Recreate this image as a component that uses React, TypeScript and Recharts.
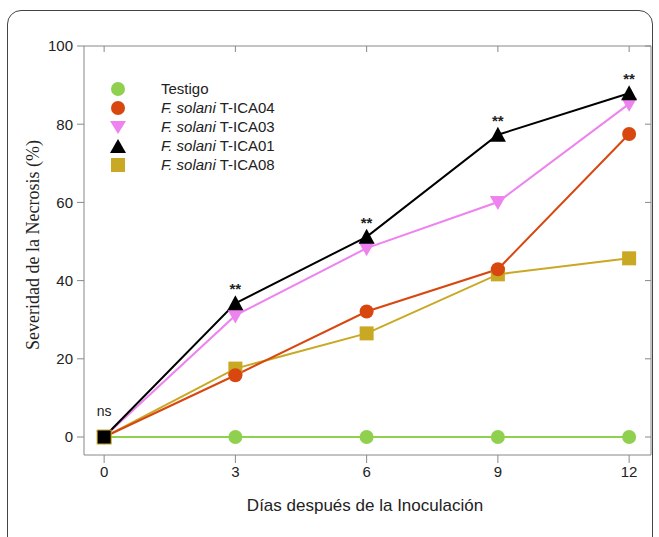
import React from 'react';
import { LineChart, Line, XAxis, YAxis } from 'recharts';

const days = [0, 3, 6, 9, 12];
const testigo = [0, 0, 0, 0, 0];
const ica04 = [0, 15.8, 32.1, 42.9, 77.5];
const ica03 = [0, 31.1, 48.3, 60.1, 85.2];
const ica01 = [0, 34.2, 51.2, 77.3, 87.9];
const ica08 = [0, 17.5, 26.5, 41.6, 45.7];
const annotations = ['ns', '**', '**', '**', '**'];
const xTicks = [0, 3, 6, 9, 12];
const yTicks = [0, 20, 40, 60, 80, 100];

const data = days.map((d, i) => ({
  day: d,
  testigo: testigo[i],
  ica04: ica04[i],
  ica03: ica03[i],
  ica01: ica01[i],
  ica08: ica08[i],
}));

const C_TEST = '#8fd14f';
const C_04 = '#d8470f';
const C_03 = '#ee82ee';
const C_01 = '#000000';
const C_08 = '#c9a824';

const circleDot = (color: string) => (p: any) => (
  <circle key={`c-${color}-${p.index}`} cx={p.cx} cy={p.cy} r={7} fill={color} stroke="none" />
);
const squareDot = (color: string) => (p: any) => (
  <rect key={`s-${p.index}`} x={p.cx - 7} y={p.cy - 7} width={14} height={14} fill={color} stroke="none" />
);
const downTriDot = (color: string) => (p: any) => (
  <path key={`d-${p.index}`} d={`M${p.cx - 8},${p.cy - 6} L${p.cx + 8},${p.cy - 6} L${p.cx},${p.cy + 8} Z`} fill={color} />
);
const upTriAnnotDot = (p: any) => {
  const txt = annotations[p.index];
  const isFirst = p.index === 0;
  return (
    <g key={`u-${p.index}`}>
      {isFirst ? (
        <rect x={p.cx - 7} y={p.cy - 7} width={14} height={14} fill="#000" stroke={C_08} strokeWidth={1} />
      ) : (
        <path d={`M${p.cx - 8},${p.cy + 7} L${p.cx + 8},${p.cy + 7} L${p.cx},${p.cy - 8} Z`} fill="#000" />
      )}
      <text
        x={p.cx}
        y={isFirst ? p.cy - 21 : p.cy - 9}
        textAnchor="middle"
        fontFamily="'Liberation Sans', Arial, sans-serif"
        fontSize={isFirst ? 14 : 15}
        fontWeight={isFirst ? 'normal' : 'bold'}
        fill="#222"
      >
        {txt}
      </text>
    </g>
  );
};

const legendItems = [
  { label: 'Testigo', italic: '', color: C_TEST, shape: 'circle' },
  { label: ' T-ICA04', italic: 'F. solani', color: C_04, shape: 'circle' },
  { label: ' T-ICA03', italic: 'F. solani', color: C_03, shape: 'down' },
  { label: ' T-ICA01', italic: 'F. solani', color: C_01, shape: 'up' },
  { label: ' T-ICA08', italic: 'F. solani', color: C_08, shape: 'square' },
];

const LegendIcon = ({ shape, color }: { shape: string; color: string }) => (
  <svg width={18} height={18} style={{ display: 'block' }}>
    {shape === 'circle' && <circle cx={9} cy={9} r={7} fill={color} />}
    {shape === 'square' && <rect x={2} y={2} width={14} height={14} fill={color} />}
    {shape === 'down' && <path d="M1,3 L17,3 L9,16 Z" fill={color} />}
    {shape === 'up' && <path d="M1,16 L17,16 L9,2 Z" fill={color} />}
  </svg>
);

const NoTick = () => <g />;

export default function App() {
  const sans = "'Liberation Sans', Arial, sans-serif";
  return (
    <div style={{ position: 'absolute', left: 0, top: 0, width: 659, height: 537, background: '#fff', overflow: 'hidden' }}>
      <div
        style={{
          position: 'absolute',
          left: 7,
          top: 10,
          width: 646,
          height: 560,
          border: '1.5px solid #444',
          borderRadius: 14,
          boxSizing: 'border-box',
        }}
      />
      <div style={{ position: 'absolute', left: 0, top: 0 }}>
        <LineChart width={659} height={537} data={data} margin={{ top: 46, right: 8, bottom: 52, left: 40 }}>
          <XAxis
            xAxisId="b"
            dataKey="day"
            type="number"
            domain={[-0.46, 12.5]}
            ticks={xTicks}
            allowDataOverflow
            height={30}
            tickSize={8}
            tickMargin={3}
            stroke="#888"
            tick={{ fill: '#222', fontSize: 15, fontFamily: sans }}
          />
          <XAxis
            xAxisId="t"
            dataKey="day"
            type="number"
            orientation="top"
            domain={[-0.46, 12.5]}
            ticks={xTicks}
            allowDataOverflow
            height={2}
            mirror
            tickSize={6}
            tick={<NoTick />}
            stroke="#888"
          />
          <YAxis
            yAxisId="l"
            type="number"
            domain={[-4.6, 100]}
            ticks={yTicks}
            allowDataOverflow
            width={44}
            tickSize={7}
            tickMargin={4}
            stroke="#888"
            tick={{ fill: '#222', fontSize: 15, fontFamily: sans }}
          />
          <YAxis
            yAxisId="r"
            orientation="right"
            type="number"
            domain={[-4.6, 100]}
            ticks={yTicks}
            allowDataOverflow
            width={2}
            mirror
            tickSize={6}
            tick={<NoTick />}
            stroke="#888"
          />
          <Line xAxisId="t" yAxisId="r" dataKey="testigo" stroke="none" strokeWidth={0} dot={false} activeDot={false} legendType="none" isAnimationActive={false} />
          <Line xAxisId="b" yAxisId="l" dataKey="testigo" stroke={C_TEST} strokeWidth={2} dot={circleDot(C_TEST)} isAnimationActive={false} />
          <Line xAxisId="b" yAxisId="l" dataKey="ica08" stroke={C_08} strokeWidth={2} dot={squareDot(C_08)} isAnimationActive={false} />
          <Line xAxisId="b" yAxisId="l" dataKey="ica04" stroke={C_04} strokeWidth={2} dot={circleDot(C_04)} isAnimationActive={false} />
          <Line xAxisId="b" yAxisId="l" dataKey="ica03" stroke={C_03} strokeWidth={2} dot={downTriDot(C_03)} isAnimationActive={false} />
          <Line xAxisId="b" yAxisId="l" dataKey="ica01" stroke={C_01} strokeWidth={2} dot={upTriAnnotDot} isAnimationActive={false} />
        </LineChart>
      </div>
      <div style={{ position: 'absolute', left: 109, top: 79, fontFamily: sans, fontSize: 15, color: '#222' }}>
        {legendItems.map((it) => (
          <div key={it.label} style={{ display: 'flex', alignItems: 'center', height: 19 }}>
            <LegendIcon shape={it.shape} color={it.color} />
            <span style={{ marginLeft: 34, whiteSpace: 'pre' }}>
              {it.italic && <i>{it.italic}</i>}
              {it.label}
            </span>
          </div>
        ))}
      </div>
      <div
        style={{
          position: 'absolute',
          left: 33,
          top: 245,
          transform: 'translate(-50%, -50%) rotate(-90deg)',
          whiteSpace: 'nowrap',
          fontFamily: "'Liberation Serif', 'Times New Roman', serif",
          fontSize: 18,
          color: '#222',
        }}
      >
        Severidad de la Necrosis (%)
      </div>
      <div
        style={{
          position: 'absolute',
          left: 365,
          top: 506,
          transform: 'translate(-50%, -50%)',
          whiteSpace: 'nowrap',
          fontFamily: sans,
          fontSize: 17,
          color: '#222',
        }}
      >
        Días después de la Inoculación
      </div>
    </div>
  );
}
